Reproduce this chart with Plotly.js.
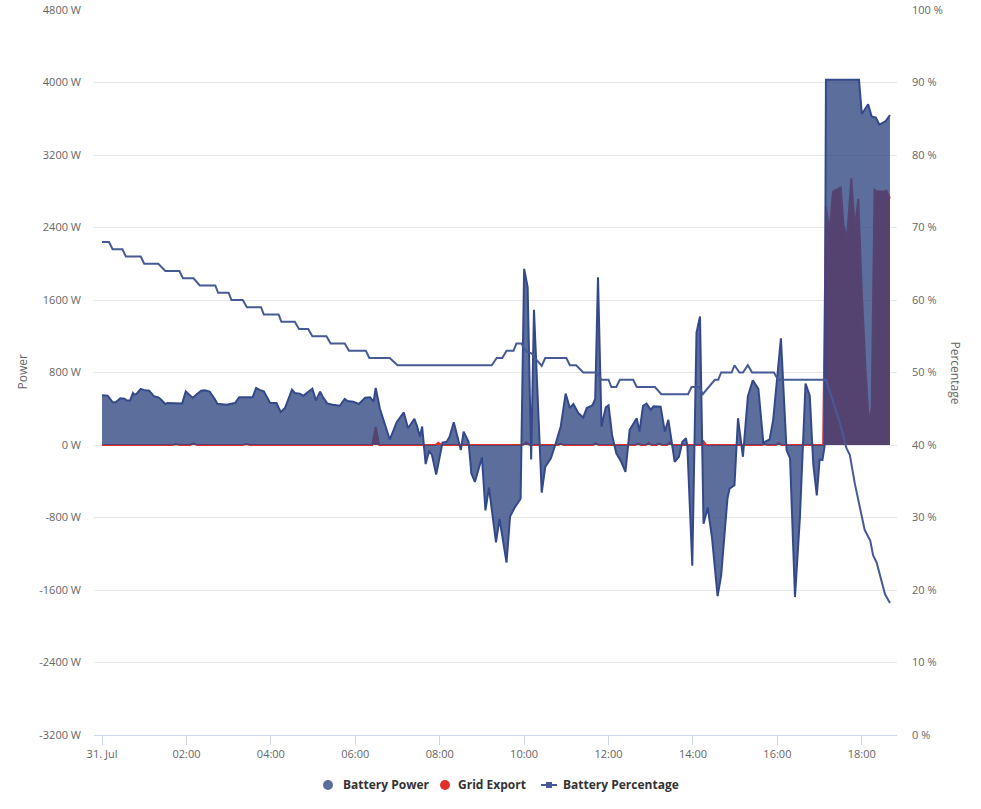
<!DOCTYPE html>
<html>
<head>
<meta charset="utf-8">
<script src="https://cdn.plot.ly/plotly-3.0.1.min.js"></script>
<style>
  html, body { margin: 0; padding: 0; background: #fff; }
  #chart { width: 981px; height: 809px; }
</style>
</head>
<body>
<div id="chart"></div>
<script>
// ---- Data (minutes after 00:00 on 31 Jul) ----
var batteryMinutes = [0,8,15,19,26,32,35,40,44,46,49,55,61,67,74,80,83,90,93,114,119,124,129,135,141,146,153,160,164,177,189,195,214,219,224,230,239,248,254,260,270,274,281,286,293,299,304,310,314,320,328,338,345,349,357,365,374,381,386,389,395,402,409,419,429,435,444,448,452,455,460,465,469,475,483,484,490,494,500,504,510,514,521,525,530,540,545,550,560,565,575,580,587,595,600,605,610,614,625,630,638,645,652,659,665,670,677,684,689,697,701,705,710,716,720,725,731,738,744,750,760,764,769,774,780,784,794,800,805,814,820,825,830,832,839,845,850,855,861,867,875,880,889,892,899,904,911,918,925,933,940,949,954,965,973,978,985,992,1000,1006,1011,1016,1020,1024,1027,1029,1076,1080,1089,1094,1100,1105,1114,1120];
var batteryPower = [548,545,474,470,515,511,492,492,574,556,563,619,603,600,537,526,508,452,463,459,592,556,519,563,600,603,589,511,455,444,463,526,526,630,608,592,463,463,363,408,611,574,567,544,589,622,492,589,530,459,444,433,508,485,478,452,522,526,478,630,400,230,60,255,359,185,289,204,92,204,-211,-63,-111,-326,-37,26,37,92,252,130,-56,148,37,-315,-408,-137,-722,-470,-1074,-815,-1297,-789,-685,-593,1944,1741,-159,1492,-526,-241,-148,19,204,567,408,452,352,304,408,437,508,1852,204,415,437,111,-93,-185,-296,167,296,148,433,456,389,426,422,148,278,-185,-130,37,74,-11,-1333,1241,1419,-870,-692,-1019,-1667,-1444,-592,-481,-444,296,-130,537,715,619,26,63,278,1178,-56,-148,-1678,-797,678,544,-211,-556,-159,-167,-19,4030,4030,3653,3760,3625,3613,3535,3574,3641];

var gridMinutes = [0,100,105,110,125,130,135,200,205,210,384,389,394,474,478,483,598,603,608,648,652,656,698,702,706,758,762,766,773,777,781,788,792,796,803,807,811,851,855,859,938,942,946,958,962,966,1025,1029,1034,1039,1050,1054,1059,1065,1070,1075,1080,1085,1090,1094,1098,1103,1110,1115,1120];
var gridExport = [0,0,10,0,0,15,0,0,10,0,0,200,0,0,25,0,0,30,0,0,15,0,0,20,0,0,15,0,0,25,0,0,15,0,0,30,0,0,40,0,0,10,0,0,20,0,0,2630,2352,2796,2841,2426,2278,2944,2389,2715,1685,870,241,407,2815,2796,2796,2807,2722];

var pctMinutes = [0,10,15,29,34,55,60,80,90,110,115,130,139,161,165,180,184,200,206,226,230,251,255,274,280,293,299,319,325,345,351,375,380,409,420,554,561,569,575,585,589,596,603,611,618,625,630,660,665,674,684,703,710,720,724,731,736,755,760,786,795,833,838,849,854,862,871,876,880,895,899,906,911,918,924,955,961,1029,1039,1049,1058,1063,1070,1077,1084,1092,1096,1101,1108,1113,1120];
var batteryPct = [68,68,67,67,66,66,65,65,64,64,63,63,62,62,61,61,60,60,59,59,58,58,57,57,56,56,55,55,54,54,53,53,52,52,51,51,52,52,53,53,54,54,52.9,52.6,51.7,50.9,52,52,51,51,50,50,49,49,48,48,49,49,48,48,47,47,48,48,47,48,49,49,50,50,51,50,50,51,50,50,49,49,46,43,39.6,38.6,34.7,31.7,28.3,26.8,24.8,23.8,21.1,19.4,18.2];

var tickMinutes = [0,120,240,360,480,600,720,840,960,1080];
var tickLabels = ['31. Jul','02:00','04:00','06:00','08:00','10:00','12:00','14:00','16:00','18:00'];
var powerTicks = [-3200,-2400,-1600,-800,0,800,1600,2400,3200,4000,4800];
var pctTicks = [0,10,20,30,40,50,60,70,80,90,100];
var seriesNames = ['Battery Power', 'Grid Export', 'Battery Percentage'];

// ---- helpers ----
var base = Date.UTC(2023, 6, 31, 0, 0, 0);
function toTime(m) {
  var d = new Date(base + m * 60000);
  function p(n) { return (n < 10 ? '0' : '') + n; }
  return d.getUTCFullYear() + '-' + p(d.getUTCMonth() + 1) + '-' + p(d.getUTCDate()) + ' ' +
         p(d.getUTCHours()) + ':' + p(d.getUTCMinutes()) + ':' + p(d.getUTCSeconds());
}

var FONT = '"Open Sans", "Noto Sans", sans-serif';
var GREY = '#666666';

// plot area geometry (px) used to place the hand-drawn legend
var L = 94, R = 84, T = 10, B = 74, W = 981, H = 809;
var PW = W - L - R, PH = H - T - B;
function px(xp) { return (xp - L) / PW; }
function py(yp) { return (H - B - yp) / PH; }

var traces = [
  {
    x: gridMinutes.map(toTime), y: gridExport, type: 'scatter', mode: 'lines',
    fill: 'tozeroy', fillcolor: 'rgb(220,40,40)', name: seriesNames[1],
    line: { color: '#e0302a', width: 2 }, showlegend: false, hoverinfo: 'skip'
  },
  {
    x: batteryMinutes.map(toTime), y: batteryPower, type: 'scatter', mode: 'lines',
    fill: 'tozeroy', fillcolor: 'rgba(50,74,131,0.8)', name: seriesNames[0],
    line: { color: '#34498a', width: 2 }, showlegend: false, hoverinfo: 'skip'
  },
  {
    x: pctMinutes.map(toTime), y: batteryPct, type: 'scatter', mode: 'lines', yaxis: 'y2',
    name: seriesNames[2],
    line: { color: '#465b96', width: 2 }, showlegend: false, hoverinfo: 'skip'
  }
];

var legY = 785;
var r = 5;
var shapes = [
  { type: 'circle', xref: 'paper', yref: 'paper', x0: px(328 - r), x1: px(328 + r), y0: py(legY + r), y1: py(legY - r),
    fillcolor: '#5b6e9c', line: { width: 0 } },
  { type: 'circle', xref: 'paper', yref: 'paper', x0: px(445 - r), x1: px(445 + r), y0: py(legY + r), y1: py(legY - r),
    fillcolor: '#e0302a', line: { width: 0 } },
  { type: 'line', xref: 'paper', yref: 'paper', x0: px(541), x1: px(557), y0: py(legY), y1: py(legY),
    line: { color: '#465b96', width: 2 } },
  { type: 'rect', xref: 'paper', yref: 'paper', x0: px(546), x1: px(552), y0: py(legY + 3), y1: py(legY - 3),
    fillcolor: '#465b96', line: { width: 0 } }
];

var legFont = { family: FONT, size: 12, color: '#333333', weight: 'bold' };
var annotations = [
  { text: 'Power', xref: 'paper', yref: 'paper', x: px(22), y: 0.5, xanchor: 'center', yanchor: 'middle',
    textangle: -90, showarrow: false, font: { family: FONT, size: 12, color: GREY } },
  { text: 'Percentage', xref: 'paper', yref: 'paper', x: px(955), y: 0.5, xanchor: 'center', yanchor: 'middle',
    textangle: 90, showarrow: false, font: { family: FONT, size: 12, color: GREY } },
  { text: '<b>' + seriesNames[0] + '</b>', xref: 'paper', yref: 'paper', x: px(341), y: py(legY), xanchor: 'left', yanchor: 'middle',
    showarrow: false, font: legFont },
  { text: '<b>' + seriesNames[1] + '</b>', xref: 'paper', yref: 'paper', x: px(456), y: py(legY), xanchor: 'left', yanchor: 'middle',
    showarrow: false, font: legFont },
  { text: '<b>' + seriesNames[2] + '</b>', xref: 'paper', yref: 'paper', x: px(561), y: py(legY), xanchor: 'left', yanchor: 'middle',
    showarrow: false, font: legFont }
];

var layout = {
  width: W, height: H,
  margin: { l: L, r: R, t: T, b: B },
  paper_bgcolor: '#fff', plot_bgcolor: '#fff',
  font: { family: FONT, size: 11, color: GREY },
  showlegend: false,
  xaxis: {
    type: 'date',
    range: [toTime(-11.4), toTime(1130)],
    tickvals: tickMinutes.map(toTime), ticktext: tickLabels,
    showgrid: false, zeroline: false,
    showline: true, linecolor: '#ccd6eb', linewidth: 1,
    ticks: 'outside', ticklen: 9, tickcolor: '#ccd6eb', tickwidth: 1,
    tickfont: { family: FONT, size: 11, color: GREY }
  },
  yaxis: {
    range: [-3200, 4800], tickvals: powerTicks, ticktext: powerTicks.map(function (v) { return v + ' W'; }),
    showgrid: true, gridcolor: '#e6e6e6', gridwidth: 1, zeroline: false, showline: false,
    ticks: '', ticklabelstandoff: 12,
    tickfont: { family: FONT, size: 11, color: GREY }
  },
  yaxis2: {
    range: [0, 100], overlaying: 'y', side: 'right',
    tickvals: pctTicks, ticktext: pctTicks.map(function (v) { return v + ' %'; }),
    showgrid: false, zeroline: false, showline: false, ticks: '', ticklabelstandoff: 14,
    tickfont: { family: FONT, size: 11, color: GREY }
  },
  shapes: shapes,
  annotations: annotations
};

Plotly.newPlot('chart', traces, layout, { staticPlot: true, displayModeBar: false });
</script>
</body>
</html>
